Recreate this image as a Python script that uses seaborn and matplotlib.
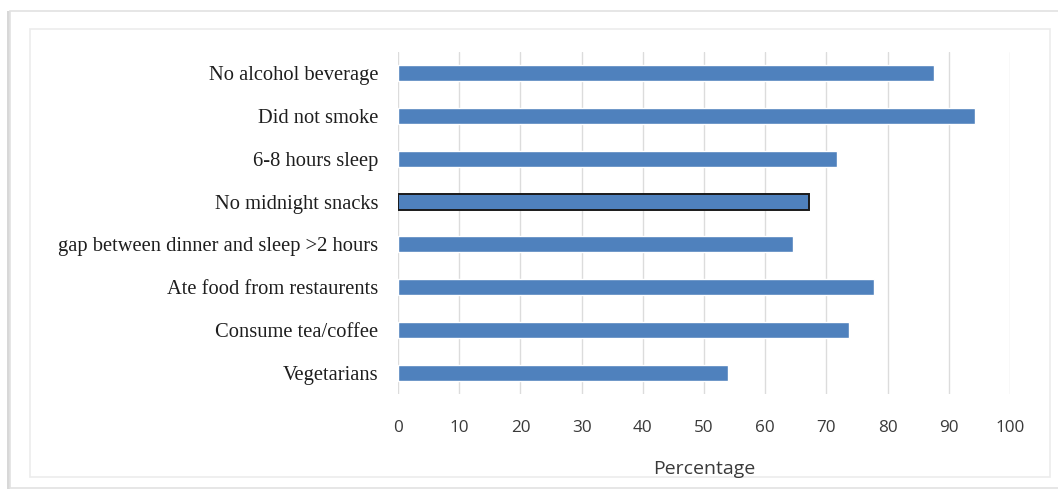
import matplotlib

matplotlib.use("Agg")
import matplotlib.pyplot as plt
import pandas as pd
import seaborn as sns
from matplotlib.patches import Rectangle

# data
categories = [
    "No alcohol beverage",
    "Did not smoke",
    "6-8 hours sleep",
    "No midnight snacks",
    "gap between dinner and sleep >2 hours",
    "Ate food from restaurents",
    "Consume tea/coffee",
    "Vegetarians",
]
percentages = [87.6, 94.2, 71.7, 67.1, 64.5, 77.7, 73.7, 53.9]
x_ticks = [0, 10, 20, 30, 40, 50, 60, 70, 80, 90, 100]
highlighted = "No midnight snacks"

sns.set_theme(style="white")
plt.rcParams["font.family"] = ["Liberation Serif", "DejaVu Serif"]

df = pd.DataFrame({"Category": categories, "Percentage": percentages})

fig = plt.figure(figsize=(10.58, 4.92), dpi=100)
W, H = 1058, 492

# frame and shadow around the chart (behind the axes)
fig.patches.append(Rectangle((7 / W, 1 - 489 / H), 3 / W, 478 / H, transform=fig.transFigure,
                             facecolor="#c8c8c8", edgecolor="none", alpha=0.7, zorder=-2))
fig.patches.append(Rectangle((10 / W, 1 - 488 / H), 1060 / W, 477 / H, transform=fig.transFigure,
                             facecolor="white", edgecolor="#e2e2e2", linewidth=1.2, zorder=-2))
fig.patches.append(Rectangle((30 / W, 1 - 477 / H), 1020 / W, 448 / H, transform=fig.transFigure,
                             facecolor="white", edgecolor="#ececec", linewidth=1.2, zorder=-1))

ax = fig.add_axes([398 / W, 1 - 394 / H, 612 / W, 342 / H])
ax.set_zorder(5)
ax.set_facecolor("none")
sns.barplot(data=df, y="Category", x="Percentage", orient="h", color="#4f81bd",
            saturation=1, width=0.37, ax=ax, zorder=3)

for patch, cat in zip(ax.patches, categories):
    if cat == highlighted:
        patch.set_edgecolor("#1a1a1a")
        patch.set_linewidth(1.4)

ax.set_xlim(0, 100)
ax.set_xticks(x_ticks)
ax.xaxis.grid(True, color="#dcdcdc", linewidth=1, zorder=0)
ax.yaxis.grid(False)
for s in ax.spines.values():
    s.set_visible(False)

ax.tick_params(axis="y", length=0, pad=14, labelsize=14.8, labelcolor="#1e1e1e")
ax.tick_params(axis="x", length=0, pad=19, labelsize=12.3, labelcolor="#3a3a3a")
for lbl in ax.get_xticklabels():
    lbl.set_fontfamily(["Open Sans", "DejaVu Sans"])
ax.set_ylabel("")
ax.set_xlabel("Percentage", fontsize=14, color="#3a3a3a", labelpad=17,
              fontfamily=["Open Sans", "DejaVu Sans"])

fig.savefig("out.png", dpi=100)
